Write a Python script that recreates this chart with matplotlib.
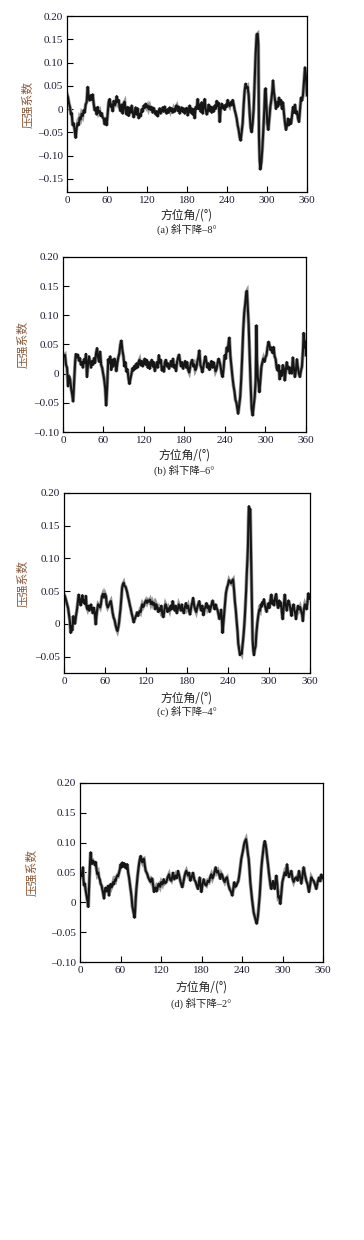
import numpy as np
import matplotlib
matplotlib.use('Agg')
import matplotlib.pyplot as plt

# pressure coefficient vs azimuth, four descent angles
ang_a = [0, 1.5, 3, 4.5, 6, 7, 8.5, 10, 11.5, 13, 14.5, 16, 17.5, 19, 20.5, 22, 23.5, 25, 26.5, 28,
         29.5, 31, 32.5, 34, 35.5, 37, 38.5, 40, 41.5, 43, 44.5, 46, 47.5, 49, 50.5, 52, 53.5, 55, 56.5, 58,
         59.5, 61, 62.5, 64, 65.5, 67, 68.5, 70, 71.5, 73, 74.5, 76, 77.5, 79, 80.5, 82, 83.5, 85, 86.5, 88,
         89.5, 91, 92.5, 94, 95.5, 97, 98.5, 100, 101.5, 103, 104.5, 106, 107.5, 109, 110.5, 112, 113.5, 115,
         116.5, 118, 119.5, 121, 122.5, 124, 125.5, 127, 128.5, 130, 131.5, 133, 134.5, 136, 137.5, 139,
         140.5, 142, 143.5, 145, 146.5, 148, 149.5, 151, 152.5, 154, 155.5, 157, 158.5, 160, 161.5, 163,
         164.5, 166, 167.5, 169, 170.5, 172, 173.5, 175, 176.5, 178, 179.5, 181, 182.5, 184, 185.5, 187,
         188.5, 190, 191.5, 193, 194.5, 196, 197.5, 199, 200.5, 202, 203.5, 205, 206.5, 208, 209.5, 211,
         212.5, 214, 215.5, 217, 218.5, 220, 221.5, 223, 224.5, 226, 227.5, 229, 230.5, 232, 233.5, 235,
         236.5, 238, 239.5, 241, 242.5, 244, 245.5, 247, 248.5, 250, 251.5, 253, 254.5, 256, 257.5, 259,
         260.5, 262, 263.5, 265, 266.5, 268, 269.5, 271, 272.5, 274, 275.5, 277, 278.5, 280, 281.5, 283,
         284.5, 286, 287, 288, 289, 290, 291.5, 293, 294.5, 296, 297, 298, 299, 300.5, 302, 303.5, 305,
         306.5, 308, 309, 310.5, 312, 313.5, 315, 316.5, 318, 319.5, 321, 322.5, 324, 325.5, 327, 328.5,
         330, 331.5, 333, 334.5, 336, 337.5, 339, 340.5, 342, 343.5, 345, 346.5, 348, 349.5, 351, 352.5,
         354, 355.5, 357, 358.5, 360]
cp_a = [0.032, 0.025, 0.012, 0.004, -0.012, -0.008, -0.035, -0.03, -0.045, -0.062, -0.04, -0.03, -0.035,
        -0.018, -0.022, -0.01, -0.015, -0.002, -0.008, 0.01, 0.015, 0.048, 0.025, 0.018, 0.03, 0.02, 0.032,
        0.012, -0.003, 0.002, -0.012, 0.005, -0.008, -0.004, -0.015, -0.008, -0.018, -0.02, -0.033, -0.02,
        -0.035, -0.01, 0.015, 0.022, 0.005, 0.01, -0.005, 0.018, 0.008, 0.012, 0.028, 0.015, 0.02, 0.002,
        -0.005, 0.01, -0.01, 0.012, 0.016, -0.006, -0.012, 0.005, -0.015, 0.003, -0.008, 0.008, -0.005,
        -0.018, -0.008, 0.004, -0.012, 0.002, -0.02, -0.01, -0.016, 0.0, -0.006, 0.008, 0.002, 0.012, 0.004,
        0.008, 0.0, 0.006, -0.002, 0.005, -0.008, 0.003, -0.004, -0.012, -0.004, -0.016, -0.006, 0.002,
        -0.01, -0.003, 0.004, -0.006, 0.006, -0.004, -0.01, 0.0, -0.008, 0.004, -0.004, 0.002, -0.008, 0.0,
        -0.006, 0.005, 0.008, -0.004, 0.006, -0.01, -0.002, 0.004, -0.006, 0.002, -0.01, -0.002, 0.003,
        -0.014, -0.004, 0.008, -0.008, 0.002, -0.012, 0.0, -0.02, 0.005, 0.0, 0.022, 0.0, 0.01, -0.006,
        0.015, -0.01, 0.005, 0.022, 0.0, -0.012, -0.006, 0.01, -0.004, 0.006, -0.008, 0.004, -0.006, 0.008,
        0.0, 0.018, 0.006, 0.014, -0.028, 0.0, 0.012, 0.002, 0.008, -0.002, 0.01, 0.004, 0.02, 0.01, 0.006,
        0.015, 0.008, 0.02, 0.01, -0.002, -0.01, -0.02, -0.035, -0.045, -0.06, -0.068, -0.05, -0.03, 0.01,
        0.04, 0.055, 0.045, 0.048, 0.03, -0.01, -0.04, -0.05, -0.03, 0.0, 0.06, 0.12, 0.16, 0.162, 0.14,
        -0.06, -0.11, -0.13, -0.115, -0.085, -0.045, 0.0, 0.04, 0.045, 0.01, -0.03, -0.045, -0.02, 0.005,
        0.02, 0.04, 0.062, 0.035, 0.02, 0.0, 0.015, 0.005, 0.025, 0.01, 0.02, 0.0, 0.015, -0.01, -0.03,
        -0.045, -0.035, -0.02, -0.035, -0.022, -0.032, -0.015, 0.005, -0.008, 0.01, -0.01, -0.005, -0.02,
        -0.028, 0.0, 0.025, 0.018, 0.03, 0.06, 0.09, 0.07, 0.03]

ang_b = [0, 1.5, 3, 4.5, 6, 7.5, 9, 10.5, 12, 13.5, 15, 16.5, 18, 19, 20.5, 22, 23.5, 25, 26.5, 28,
         29.5, 31, 32.5, 34, 35.5, 37, 38.5, 40, 41.5, 43, 44.5, 46, 47.5, 49, 50.5, 52, 53.5, 55, 56.5, 58,
         59.5, 61, 62.5, 64, 65.5, 67, 68.5, 70, 71.5, 73, 74.5, 76, 77.5, 79, 80.5, 82, 83.5, 85, 86.5, 88,
         89.5, 91, 92.5, 94, 95.5, 97, 98.5, 100, 101.5, 103, 104.5, 106, 107.5, 109, 110.5, 112, 113.5, 115,
         116.5, 118, 119.5, 121, 122.5, 124, 125.5, 127, 128.5, 130, 131.5, 133, 134.5, 136, 137.5, 139,
         140.5, 142, 143.5, 145, 146.5, 148, 149.5, 151, 152.5, 154, 155.5, 157, 158.5, 160, 161.5, 163,
         164.5, 166, 167.5, 169, 170.5, 172, 173.5, 175, 176.5, 178, 179.5, 181, 182.5, 184, 185.5, 187,
         188.5, 190, 191.5, 193, 194.5, 196, 197.5, 199, 200.5, 202, 203.5, 205, 206.5, 208, 209.5, 211,
         212.5, 214, 215.5, 217, 218.5, 220, 221.5, 223, 224.5, 226, 227.5, 229, 230.5, 232, 233.5, 235,
         236.5, 238, 239.5, 241, 242.5, 244, 245.5, 246.5, 248, 249.5, 251, 252.5, 254, 255.5, 257, 258.5,
         259.5, 261, 262.5, 264, 265.5, 267, 268.5, 270, 271.5, 272.5, 273.5, 275, 276.5, 278, 279.5, 281,
         282.5, 284, 285.5, 286.5, 287.5, 288.5, 290, 291, 292.5, 294, 295.5, 297, 298.5, 300, 301.5, 303,
         304.5, 306, 307.5, 309, 310.5, 312, 313.5, 315, 316.5, 318, 319.5, 321, 322.5, 324, 325.5, 327,
         328.5, 330, 331.5, 333, 334.5, 336, 337.5, 339, 340.5, 342, 343.5, 345, 346.5, 348, 349.5, 351,
         352.5, 354, 355.5, 356.5, 358, 359, 360]
cp_b = [0.034, 0.03, 0.032, 0.015, 0.01, -0.022, -0.004, -0.01, -0.025, -0.035, -0.048, -0.015, 0.02,
        0.034, 0.028, 0.033, 0.022, 0.027, 0.015, 0.02, 0.01, 0.025, 0.018, 0.034, -0.006, 0.015, 0.03, 0.02,
        0.01, 0.022, 0.015, 0.027, 0.018, 0.035, 0.044, 0.028, 0.02, 0.038, 0.015, 0.01, 0.0, -0.01, -0.025,
        -0.055, -0.02, 0.025, 0.018, 0.03, 0.006, 0.024, 0.012, 0.026, 0.022, 0.004, 0.018, 0.028, 0.035,
        0.05, 0.057, 0.04, 0.03, 0.012, 0.02, 0.003, 0.008, -0.008, -0.018, -0.008, 0.0, 0.01, 0.005, 0.014,
        0.008, 0.018, 0.01, 0.02, 0.024, 0.014, 0.022, 0.012, 0.018, 0.026, 0.015, 0.024, 0.01, 0.02, 0.008,
        0.018, 0.024, 0.012, 0.02, 0.004, 0.012, 0.02, 0.01, 0.032, 0.018, 0.024, 0.005, 0.012, 0.003, 0.02,
        0.024, 0.012, 0.018, 0.008, 0.014, 0.022, 0.012, 0.026, 0.01, 0.015, 0.004, 0.02, 0.028, 0.033, 0.02,
        0.012, 0.02, 0.008, 0.015, 0.022, 0.01, 0.02, 0.006, 0.002, 0.012, 0.02, 0.024, 0.012, 0.016, 0.006,
        0.01, 0.02, 0.028, 0.04, 0.015, 0.01, 0.002, 0.012, 0.022, 0.03, 0.02, 0.01, 0.018, 0.006, 0.012,
        0.022, 0.01, 0.02, 0.014, 0.004, 0.008, 0.018, 0.026, 0.02, 0.012, 0.0, -0.006, 0.01, 0.032, 0.025,
        0.045, 0.038, 0.055, 0.062, 0.03, 0.012, -0.005, -0.02, -0.03, -0.045, -0.05, -0.062, -0.069, -0.055,
        -0.04, -0.01, 0.03, 0.075, 0.105, 0.12, 0.14, 0.142, 0.12, 0.085, 0.03, -0.02, -0.06, -0.072, -0.055,
        -0.04, -0.01, 0.083, 0.02, -0.005, -0.02, -0.032, -0.01, 0.012, 0.02, 0.026, 0.02, 0.028, 0.032,
        0.045, 0.055, 0.048, 0.04, 0.045, 0.035, 0.046, 0.03, 0.025, 0.01, 0.005, 0.015, -0.01, 0.005, -0.004,
        0.015, 0.01, -0.012, 0.005, 0.02, 0.008, 0.012, 0.0, 0.01, 0.0, 0.028, 0.01, -0.006, 0.005, 0.025,
        0.01, 0.0, -0.006, 0.005, 0.012, 0.04, 0.07, 0.045, 0.055, 0.032]

ang_c = [0, 1.5, 3, 4.5, 6, 7.5, 8.5, 9.8, 11, 12.2, 13.5, 15, 16.1, 17.5, 19, 20.5, 21.5, 23, 24.4, 26,
         27, 28.5, 29.5, 31, 32, 33, 34.5, 36, 37, 38.5, 39.5, 41, 42, 43.5, 45, 46.4, 47.5, 48.9, 50, 51.5,
         53, 54, 55.5, 57, 58.5, 60, 61.5, 62.5, 64, 65.5, 67, 68.5, 70, 71, 72.5, 74, 75.5, 77, 78.2, 79.5,
         80.6, 81.5, 82.6, 84, 85, 86, 87.4, 88.5, 90, 91.5, 92.5, 94, 95, 96.5, 97.5, 99, 100.5, 102, 103,
         104.5, 106, 107, 108.5, 109.5, 111, 112, 113.5, 114.5, 116, 117, 118.5, 120, 121.5, 123, 124.5, 126,
         127.5, 129, 130.5, 132, 133.5, 135, 136.5, 138, 139.5, 141, 142.5, 144, 145.5, 147, 148.5, 150,
         151.5, 153, 154.5, 156, 157.5, 159, 160.5, 162, 163.5, 165, 166.5, 168, 169.5, 171, 172.5, 174,
         175.5, 177, 178.5, 180, 181.5, 183, 184.5, 186, 187.5, 189, 190.5, 192, 193.5, 195, 196.5, 198,
         199.5, 201, 202.5, 204, 205.5, 207, 208.5, 210, 211.5, 213, 214.5, 216, 217.5, 219, 220.5, 222,
         223.5, 225, 226.5, 227.5, 229, 230, 231, 232, 233.5, 234.5, 236, 237, 238.5, 240, 241.5, 243, 244.5,
         246, 247.5, 249, 250, 251.5, 252.5, 254, 255, 256.5, 257.5, 259, 260, 261.5, 262.5, 264, 265, 266.5,
         267.5, 268.5, 269.2, 270, 270.6, 271.5, 272.6, 273.5, 274.1, 275, 276, 277, 278, 279, 280.4, 281.5,
         283, 284.5, 285.8, 287, 288, 289.2, 290.5, 292, 292.6, 294, 295.5, 296.5, 298, 299.5, 300.5, 302,
         303.5, 305, 306, 307.5, 309, 310.5, 312, 313.5, 315, 316, 317.5, 319, 320, 321.5, 323, 324.5, 326,
         327, 328.5, 330, 331.5, 333, 334.5, 336, 337, 338.5, 339.5, 341, 342.5, 344, 345.5, 347, 348.5,
         349.5, 351, 352.5, 354, 355, 356.5, 357.6, 359, 360]
cp_c = [0.045, 0.042, 0.036, 0.03, 0.024, 0.012, 0.005, -0.014, -0.004, -0.01, 0.012, 0.004, 0.0, 0.012,
        0.022, 0.035, 0.045, 0.035, 0.028, 0.04, 0.044, 0.032, 0.036, 0.03, 0.043, 0.026, 0.022, 0.028, 0.02,
        0.026, 0.03, 0.022, 0.016, 0.025, 0.018, -0.001, 0.012, 0.024, 0.03, 0.028, 0.025, 0.03, 0.042,
        0.046, 0.04, 0.046, 0.042, 0.03, 0.025, 0.028, 0.032, 0.035, 0.026, 0.018, 0.01, 0.006, -0.002,
        -0.008, -0.011, -0.005, 0.002, 0.012, 0.022, 0.04, 0.055, 0.06, 0.063, 0.058, 0.057, 0.052, 0.048,
        0.04, 0.036, 0.028, 0.024, 0.016, 0.01, 0.002, 0.006, 0.01, 0.014, 0.018, 0.012, 0.016, 0.02, 0.018,
        0.026, 0.03, 0.026, 0.028, 0.033, 0.036, 0.032, 0.036, 0.034, 0.037, 0.03, 0.034, 0.029, 0.032,
        0.022, 0.03, 0.026, 0.018, 0.024, 0.02, 0.028, 0.014, 0.01, 0.022, 0.03, 0.026, 0.018, 0.024, 0.02,
        0.028, 0.022, 0.035, 0.026, 0.02, 0.028, 0.016, 0.022, 0.03, 0.026, 0.02, 0.03, 0.02, 0.016, 0.026,
        0.032, 0.024, 0.028, 0.02, 0.014, 0.025, 0.032, 0.04, 0.028, 0.022, 0.018, 0.025, 0.03, 0.035, 0.025,
        0.02, 0.028, 0.013, 0.022, 0.026, 0.032, 0.024, 0.028, 0.018, 0.024, 0.03, 0.036, 0.028, 0.022,
        0.03, 0.024, 0.02, 0.012, 0.007, 0.016, 0.022, 0.008, -0.014, 0.005, 0.018, 0.035, 0.047, 0.055,
        0.06, 0.067, 0.064, 0.062, 0.066, 0.068, 0.05, 0.035, 0.02, 0.006, -0.012, -0.03, -0.04, -0.048,
        -0.044, -0.046, -0.03, -0.02, 0.0, 0.018, 0.05, 0.078, 0.1, 0.12, 0.16, 0.18, 0.172, 0.176, 0.12,
        0.09, 0.03, -0.024, -0.04, -0.048, -0.04, -0.034, -0.015, 0.002, 0.014, 0.022, 0.02, 0.03, 0.026,
        0.034, 0.03, 0.038, 0.028, 0.022, 0.018, 0.028, 0.032, 0.024, 0.036, 0.045, 0.03, 0.036, 0.028, 0.04,
        0.046, 0.03, 0.024, 0.036, 0.028, 0.033, 0.016, 0.007, 0.025, 0.045, 0.03, 0.02, 0.028, 0.036, 0.03,
        0.022, 0.012, 0.025, 0.03, 0.022, 0.015, 0.007, 0.02, 0.028, 0.022, 0.026, 0.02, 0.014, 0.004, 0.022,
        0.03, 0.026, 0.022, 0.035, 0.047, 0.038, 0.042]

ang_d = [0, 1, 2.5, 3.5, 4.4, 5, 5.9, 7, 8.4, 9.5, 10.9, 11.6, 12.3, 13, 14.3, 15, 15.8, 16.8, 17.8, 19,
         20.7, 22, 23.2, 24.5, 25.7, 27, 28.1, 29.5, 30.6, 32, 33.1, 34.3, 35.6, 36.5, 38, 39.3, 40.5, 41.8,
         43, 44.2, 45.4, 46.7, 47.9, 49.2, 50.4, 51.6, 52.8, 54, 55.3, 56.5, 57.8, 59, 60.2, 61.5, 62.7, 64,
         65.2, 66.5, 67.7, 69, 70.1, 71.3, 72.6, 73.8, 75.1, 76.3, 77.5, 78.8, 80, 80.8, 81.5, 82.5, 83.5,
         84.5, 85.4, 86.4, 87.4, 88.6, 89.9, 91.1, 92.3, 93.5, 94.8, 96, 97.3, 98.5, 99.8, 101, 102.2, 103.5,
         104.7, 106, 107.2, 108.4, 109.6, 110.9, 112.1, 113.3, 114.6, 115.8, 117, 118.7, 120.5, 122.2, 124,
         126, 127.9, 129.9, 131.9, 133.6, 135.3, 136.5, 137.8, 139.7, 141.7, 143.4, 145.2, 146.9, 148.6,
         150.1, 151.6, 153.3, 155.1, 156.3, 157.5, 158.8, 160, 161.7, 163.5, 165.5, 167.4, 169.4, 171.4, 173,
         174.8, 176, 177.3, 178.5, 179.8, 181.5, 183.2, 185.2, 187.2, 189.2, 191.1, 192.8, 194.6, 196.3, 198,
         199.5, 201, 202.7, 204.4, 206.1, 207.9, 209.4, 210.9, 212.6, 214.3, 216, 217.8, 219.7, 221.7, 223.7,
         225.7, 227.2, 228.6, 230.1, 231.6, 233.1, 234.6, 235.5, 236.5, 237.8, 239, 240.3, 241.5, 242.7,
         243.9, 245, 245.9, 247, 247.9, 248.9, 249.9, 251.1, 252.3, 253.5, 254.8, 256, 257.3, 258.5, 259.8,
         260.7, 261.7, 262.7, 263.7, 265, 266.2, 267.4, 268.6, 269.9, 271.1, 272.3, 273.6, 274.8, 276, 277.3,
         278.5, 279.8, 281, 282.2, 283.5, 284.7, 285.9, 287.1, 288.4, 289.6, 290.9, 292.3, 293.8, 295.3,
         296.8, 298.3, 299.8, 301.5, 303.2, 305, 306.7, 308.1, 309.6, 311.3, 313.1, 314.8, 316.5, 318.5,
         320.5, 322.5, 324.4, 326.1, 327.9, 329.6, 331.3, 333.3, 335.3, 337.2, 339.2, 341, 342.7, 344.4,
         346.1, 348.1, 350.1, 352.1, 354.1, 355.8, 357.5, 358.8, 360]
cp_d = [0.05, 0.046, 0.044, 0.052, 0.059, 0.04, 0.028, 0.032, 0.02, 0.012, 0.003, -0.002, -0.008, 0.012,
        0.045, 0.07, 0.084, 0.07, 0.064, 0.07, 0.067, 0.062, 0.068, 0.055, 0.047, 0.05, 0.042, 0.038, 0.031,
        0.028, 0.022, 0.015, 0.006, 0.018, 0.025, 0.018, 0.022, 0.028, 0.011, 0.024, 0.031, 0.025, 0.028,
        0.034, 0.03, 0.038, 0.036, 0.042, 0.045, 0.044, 0.05, 0.055, 0.064, 0.058, 0.067, 0.06, 0.066,
        0.058, 0.064, 0.056, 0.064, 0.05, 0.042, 0.032, 0.022, 0.01, -0.006, -0.014, -0.022, -0.026, -0.017,
        0.005, 0.022, 0.035, 0.045, 0.055, 0.064, 0.072, 0.078, 0.07, 0.067, 0.072, 0.073, 0.062, 0.053,
        0.05, 0.047, 0.042, 0.039, 0.036, 0.034, 0.04, 0.039, 0.028, 0.017, 0.022, 0.025, 0.018, 0.022,
        0.03, 0.031, 0.026, 0.034, 0.03, 0.039, 0.032, 0.034, 0.042, 0.047, 0.038, 0.036, 0.042, 0.05,
        0.038, 0.045, 0.04, 0.053, 0.045, 0.036, 0.03, 0.025, 0.035, 0.045, 0.05, 0.053, 0.048, 0.045, 0.05,
        0.036, 0.042, 0.05, 0.038, 0.034, 0.028, 0.022, 0.032, 0.042, 0.03, 0.017, 0.03, 0.039, 0.03, 0.028,
        0.036, 0.034, 0.042, 0.047, 0.04, 0.045, 0.052, 0.059, 0.05, 0.053, 0.046, 0.039, 0.048, 0.045,
        0.038, 0.034, 0.04, 0.042, 0.03, 0.022, 0.018, 0.011, 0.024, 0.034, 0.026, 0.028, 0.032, 0.036,
        0.042, 0.05, 0.062, 0.073, 0.08, 0.087, 0.095, 0.101, 0.104, 0.106, 0.098, 0.089, 0.08, 0.073,
        0.055, 0.034, 0.02, 0.006, -0.005, -0.017, -0.022, -0.028, -0.032, -0.036, -0.03, -0.022, -0.005,
        0.011, 0.035, 0.056, 0.072, 0.084, 0.095, 0.103, 0.098, 0.089, 0.075, 0.064, 0.05, 0.039, 0.028,
        0.022, 0.03, 0.036, 0.03, 0.022, 0.035, 0.045, 0.03, 0.008, 0.01, -0.003, 0.015, 0.034, 0.042, 0.05,
        0.045, 0.064, 0.05, 0.042, 0.048, 0.053, 0.04, 0.034, 0.04, 0.042, 0.036, 0.053, 0.042, 0.031, 0.045,
        0.059, 0.046, 0.036, 0.03, 0.017, 0.03, 0.042, 0.038, 0.036, 0.03, 0.022, 0.034, 0.042, 0.035,
        0.047, 0.04, 0.042]

captions = ['(a) 斜下降–8°', '(b) 斜下降–6°', '(c) 斜下降–4°', '(d) 斜下降–2°']
ylims = [(-0.178, 0.20), (-0.10, 0.20), (-0.075, 0.20), (-0.10, 0.20)]
ytick_lo = [-0.15, -0.10, -0.05, -0.10]
xticks = [0, 60, 120, 180, 240, 300, 360]

# pixel boxes (left, right, top, bottom) and label rows in a 364x1240 canvas
W, H = 364, 1240
boxes = [(67, 307, 16, 192), (63, 306, 257, 432), (64, 310, 493, 673), (80, 323, 783, 962)]
xlab_y = [215, 455, 698, 987]
cap_y = [229, 470, 711, 1003]
ylab_x = [28, 23, 23, 32]

fam = ['Liberation Serif', 'Noto Sans CJK SC']
cjk = ['Noto Sans CJK SC', 'DejaVu Sans']
tick_col = '#1c1c34'
ylab_col = '#8a5a3a'


def fmt(v):
    if abs(v) < 1e-9:
        return '0'
    s = '%.2f' % abs(v)
    return ('–' + s) if v < 0 else s


fig = plt.figure(figsize=(W / 100, H / 100), dpi=100)
data = [(ang_a, cp_a), (ang_b, cp_b), (ang_c, cp_c), (ang_d, cp_d)]
for i, (ang, cp) in enumerate(data):
    l, r, t, b = boxes[i]
    ax = fig.add_axes([l / W, 1 - b / H, (r - l) / W, (b - t) / H])
    ax.plot(ang, cp, color='#9a9a9a', lw=2.6, solid_joinstyle='miter')
    ax.plot(ang, cp, color='#161616', lw=1.5)
    ax.set_xlim(0, 360)
    ax.set_ylim(*ylims[i])
    ax.set_xticks(xticks)
    yt = np.round(np.arange(ytick_lo[i], 0.2001, 0.05), 2)
    ax.set_yticks(yt)
    ax.set_yticklabels([fmt(v) for v in yt], family=fam, fontsize=8, color=tick_col)
    ax.set_xticklabels([str(x) for x in xticks], family=fam, fontsize=8, color=tick_col)
    ax.tick_params(direction='in', length=4, width=0.8, pad=3)
    for sp in ax.spines.values():
        sp.set_linewidth(0.9)
    cx = (l + r) / 2 / W
    fig.text(cx, 1 - xlab_y[i] / H, '方位角/(°)', family=cjk, fontsize=8.5,
             ha='center', va='center', color='#222222')
    fig.text(cx, 1 - cap_y[i] / H, captions[i], family=fam, fontsize=7.5,
             ha='center', va='center', color='#222222')
    fig.text(ylab_x[i] / W, 1 - (t + b) / 2 / H, '压强系数', family=cjk, fontsize=8.5,
             rotation=90, ha='center', va='center', color=ylab_col)

fig.savefig('out.png', dpi=100)
